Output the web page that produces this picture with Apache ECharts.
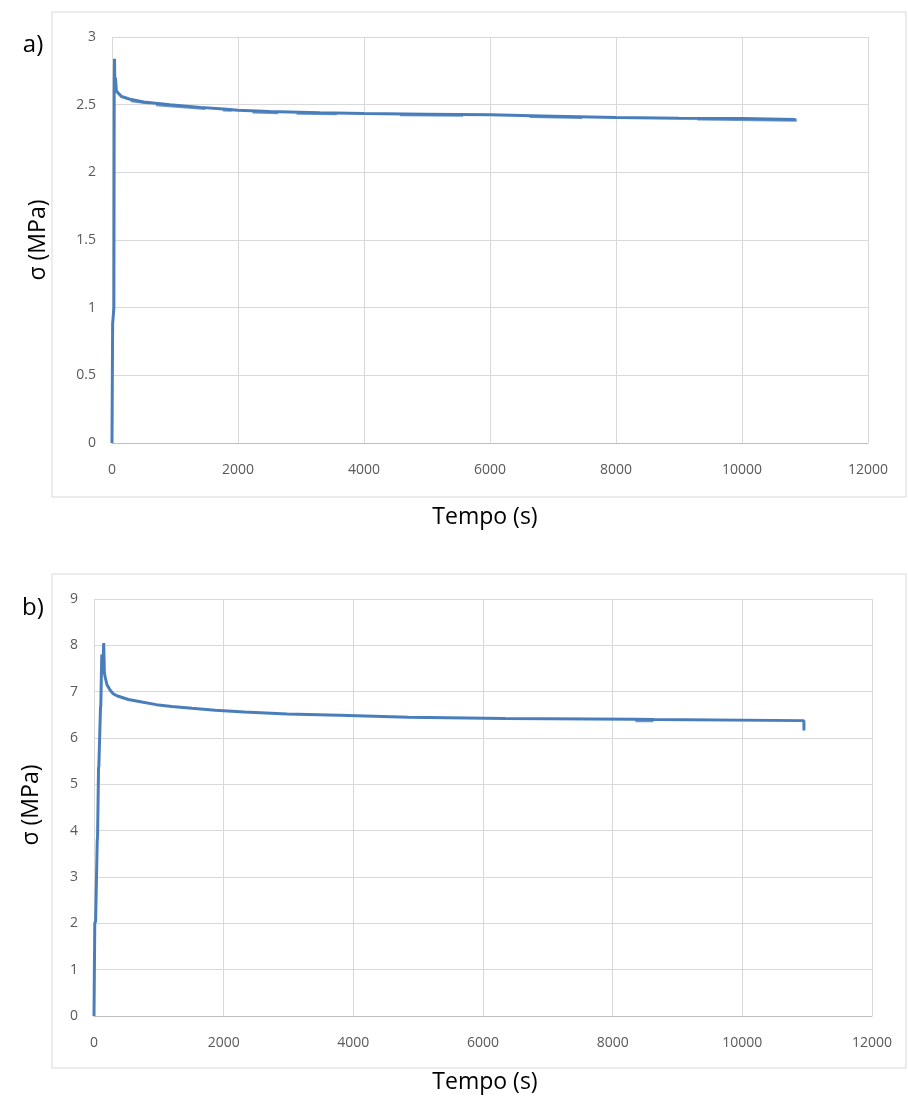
<!DOCTYPE html>
<html>
<head>
<meta charset="utf-8">
<script src="https://cdn.jsdelivr.net/npm/echarts@6/dist/echarts.min.js"></script>
<style>
html,body{margin:0;padding:0;background:#fff;}
#c{width:908px;height:1100px;}
</style>
</head>
<body>
<div id="c"></div>
<script>
// ---- data ----
const xTicks = [0, 2000, 4000, 6000, 8000, 10000, 12000];
const yTicksA = [0, 0.5, 1, 1.5, 2, 2.5, 3];
const yTicksB = [0, 1, 2, 3, 4, 5, 6, 7, 8, 9];

// panel a) main trace
const timeA = [0, 10, 30, 35, 40, 45, 55, 70, 85, 150, 286, 500, 920, 1400, 1714, 2000, 2500, 3300, 4000, 5000, 6000, 7000, 8000, 9000, 10000, 10850];
const stressA = [0, 0.88, 1.0, 2.6, 2.84, 2.62, 2.7, 2.6, 2.59, 2.56, 2.54, 2.52, 2.50, 2.48, 2.47, 2.458, 2.45, 2.44, 2.434, 2.43, 2.425, 2.415, 2.405, 2.40, 2.398, 2.39];
// panel a) noisy low readings (start, end, level at start, level at end)
const bandStartA = [300, 700, 1760, 2230, 2930, 4570, 6630, 9290];
const bandEndA = [600, 1480, 1900, 2640, 3570, 5570, 7460, 10870];
const bandFromA = [2.528, 2.500, 2.461, 2.446, 2.436, 2.425, 2.413, 2.394];
const bandToA = [2.512, 2.472, 2.459, 2.441, 2.432, 2.422, 2.406, 2.385];

// panel b) main trace
const timeB = [0, 12, 12, 25, 50, 55, 70, 75, 100, 105, 120, 135, 150, 160, 175, 200, 250, 300, 375, 375, 530, 530, 760, 760, 960, 960, 1200, 1200, 1510, 1510, 1870, 1870, 2320, 2320, 2980, 2980, 3790, 3790, 4850, 4850, 6340, 6340, 8350, 8640, 8640, 10950, 10950];
const stressB = [0, 0, 2.0, 2.05, 3.8, 3.85, 5.35, 5.4, 6.65, 6.7, 7.8, 7.5, 8.05, 7.4, 7.3, 7.15, 7.03, 6.95, 6.90, 6.87, 6.83, 6.80, 6.77, 6.75, 6.72, 6.70, 6.68, 6.66, 6.64, 6.62, 6.60, 6.58, 6.56, 6.54, 6.52, 6.51, 6.49, 6.47, 6.45, 6.44, 6.42, 6.41, 6.405, 6.40, 6.385, 6.375, 6.16];
const bandStartB = [8350];
const bandEndB = [8630];
const bandFromB = [6.375];
const bandToB = [6.375];

const seriesName = 'σ';
const xTitle = 'Tempo (s)';
const yTitle = 'σ (MPa)';
const panelLabels = ['a)', 'b)'];

// ---- build ----
const zip = (xs, ys) => xs.map((x, i) => [x, ys[i]]);
function bands(s, e, from, to) {
  const out = [];
  s.forEach((t, i) => { out.push([t, from[i]], [e[i], to[i]], '-'); });
  return out;
}
const tickFont = "'Open Sans', sans-serif";
const titleFont = "'Open Sans', 'Liberation Sans', sans-serif";
const gridColor = '#d9d9d9';
const lineColor = '#4a7ebb';

function xAxis(gridIndex) {
  return {
    type: 'value', gridIndex, min: 0, max: 12000, interval: 2000,
    axisLine: { show: true, lineStyle: { color: '#bfbfbf', width: 1 } },
    axisTick: { show: false },
    splitLine: { show: true, lineStyle: { color: gridColor, width: 1 } },
    axisLabel: { color: '#595959', fontFamily: tickFont, fontSize: 14, margin: 20,
      formatter: v => xTicks.includes(v) ? String(v) : '' }
  };
}
function yAxis(gridIndex, max, interval, ticks) {
  return {
    type: 'value', gridIndex, min: 0, max, interval,
    axisLine: { show: false }, axisTick: { show: false },
    splitLine: { show: true, lineStyle: { color: gridColor, width: 1 } },
    axisLabel: { color: '#595959', fontFamily: tickFont, fontSize: 14, margin: 16,
      formatter: v => ticks.includes(v) ? String(v) : '' }
  };
}
const lineStyle = { color: lineColor, width: 3 };

const chart = echarts.init(document.getElementById('c'), null, { renderer: 'canvas' });
chart.setOption({
  animation: false,
  backgroundColor: '#ffffff',
  grid: [
    { left: 112, top: 37, width: 756, height: 406 },
    { left: 94, top: 599, width: 778, height: 417 }
  ],
  xAxis: [xAxis(0), xAxis(1)],
  yAxis: [yAxis(0, 3, 0.5, yTicksA), yAxis(1, 9, 1, yTicksB)],
  series: [
    { name: seriesName, type: 'line', xAxisIndex: 0, yAxisIndex: 0, data: zip(timeA, stressA),
      showSymbol: false, lineStyle, z: 5 },
    { name: seriesName, type: 'line', xAxisIndex: 0, yAxisIndex: 0, data: bands(bandStartA, bandEndA, bandFromA, bandToA),
      showSymbol: false, connectNulls: false, lineStyle: { color: lineColor, width: 3, opacity: 0.8 }, z: 4 },
    { name: seriesName, type: 'line', xAxisIndex: 1, yAxisIndex: 1, data: zip(timeB, stressB),
      showSymbol: false, lineStyle, z: 5 },
    { name: seriesName, type: 'line', xAxisIndex: 1, yAxisIndex: 1, data: bands(bandStartB, bandEndB, bandFromB, bandToB),
      showSymbol: false, connectNulls: false, lineStyle: { color: lineColor, width: 3, opacity: 0.8 }, z: 4 }
  ],
  graphic: [
    { type: 'rect', shape: { x: 52, y: 12, width: 854, height: 485 }, style: { fill: null, stroke: gridColor, lineWidth: 1 }, z: -1 },
    { type: 'rect', shape: { x: 52, y: 574, width: 854, height: 494 }, style: { fill: null, stroke: gridColor, lineWidth: 1 }, z: -1 },
    { type: 'text', x: 33, y: 45, style: { text: panelLabels[0], font: "24px " + titleFont, fill: '#000', textAlign: 'center', textVerticalAlign: 'middle' } },
    { type: 'text', x: 33, y: 608, style: { text: panelLabels[1], font: "24px " + titleFont, fill: '#000', textAlign: 'center', textVerticalAlign: 'middle' } },
    { type: 'text', x: 485, y: 517, style: { text: xTitle, font: "23px " + titleFont, fill: '#000', textAlign: 'center', textVerticalAlign: 'middle' } },
    { type: 'text', x: 485, y: 1082, style: { text: xTitle, font: "23px " + titleFont, fill: '#000', textAlign: 'center', textVerticalAlign: 'middle' } },
    { type: 'text', x: 38, y: 240, rotation: Math.PI / 2, style: { text: yTitle, font: "23px " + titleFont, fill: '#000', textAlign: 'center', textVerticalAlign: 'middle' } },
    { type: 'text', x: 31, y: 805, rotation: Math.PI / 2, style: { text: yTitle, font: "23px " + titleFont, fill: '#000', textAlign: 'center', textVerticalAlign: 'middle' } }
  ]
});
</script>
</body>
</html>
